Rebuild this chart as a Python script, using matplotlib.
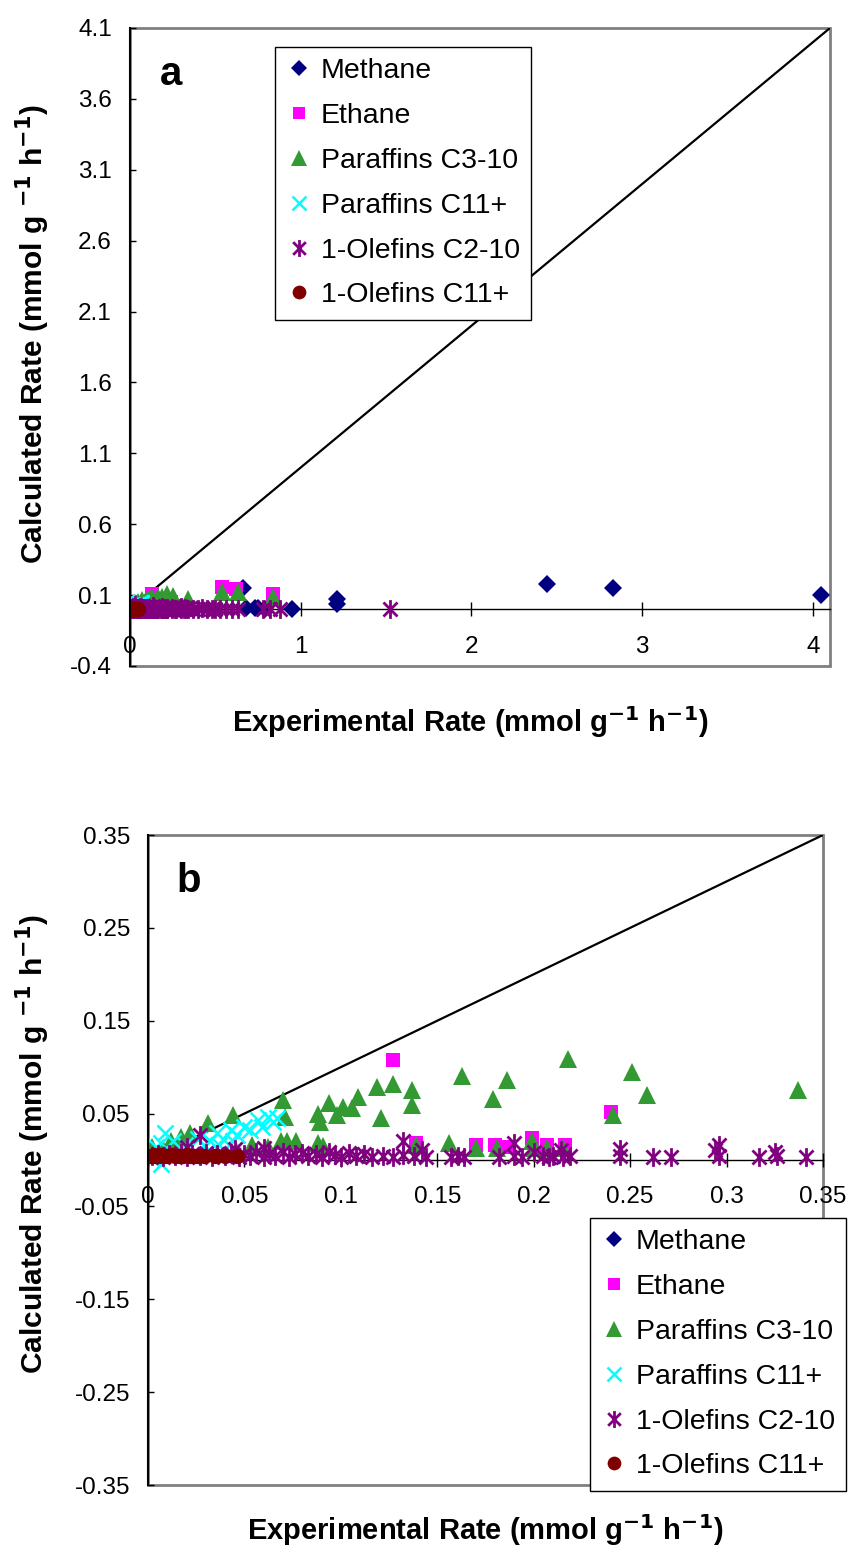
import matplotlib
matplotlib.use('Agg')
import matplotlib.pyplot as plt
from matplotlib.path import Path
from matplotlib.patches import Rectangle

plt.rcParams['font.family'] = ['Liberation Sans', 'DejaVu Sans']
plt.rcParams['mathtext.default'] = 'bf'

# experimental (x) vs calculated (y) rates, mmol g-1 h-1
methane_x = [0.66, 0.68, 0.73, 0.75, 0.79, 0.95, 1.21, 1.21, 2.44, 2.83, 4.05]
methane_y = [0.148, 0.010, 0.010, 0.010, 0.005, 0.005, 0.070, 0.035, 0.175, 0.150, 0.100]

ethane_x = [0.127, 0.139, 0.170, 0.180, 0.187, 0.199, 0.207, 0.216, 0.240, 0.54, 0.62, 0.84]
ethane_y = [0.108, 0.018, 0.016, 0.016, 0.014, 0.024, 0.016, 0.016, 0.052, 0.155, 0.140, 0.105]

par_c3_x = [0.002, 0.008, 0.012, 0.017, 0.022, 0.031, 0.044, 0.054, 0.062, 0.069, 0.070,
            0.071, 0.072, 0.077, 0.088, 0.088, 0.089, 0.091, 0.094, 0.098, 0.101, 0.106,
            0.109, 0.119, 0.121, 0.127, 0.137, 0.137, 0.139, 0.156, 0.163, 0.170, 0.179,
            0.181, 0.186, 0.199, 0.200, 0.207, 0.215, 0.218, 0.241, 0.251, 0.259, 0.337,
            0.54, 0.63, 0.84]
par_c3_y = [0.014, 0.012, 0.020, 0.025, 0.029, 0.040, 0.048, 0.016, 0.014, 0.021, 0.0645,
            0.046, 0.020, 0.020, 0.050, 0.018, 0.041, 0.015, 0.061, 0.048, 0.057, 0.056,
            0.068, 0.079, 0.045, 0.082, 0.075, 0.059, 0.016, 0.018, 0.090, 0.013, 0.066,
            0.013, 0.086, 0.020, 0.013, 0.013, 0.013, 0.109, 0.049, 0.095, 0.070, 0.075,
            0.120, 0.120, 0.090]

par_c11_x = [0.001, 0.004, 0.0065, 0.007, 0.009, 0.013, 0.019, 0.026, 0.029, 0.032, 0.036,
             0.037, 0.039, 0.043, 0.044, 0.046, 0.050, 0.053, 0.057, 0.059, 0.062, 0.065,
             0.067]
par_c11_y = [0.003, 0.014, 0.018, -0.004, 0.029, 0.020, 0.016, 0.023, 0.016, 0.021, 0.029,
             0.016, 0.023, 0.032, 0.020, 0.027, 0.036, 0.032, 0.043, 0.036, 0.046, 0.041,
             0.045]

ole_c2_x = [0.002, 0.005, 0.008, 0.011, 0.014, 0.017, 0.020, 0.020, 0.023, 0.027, 0.027,
            0.030, 0.033, 0.036, 0.040, 0.043, 0.045, 0.047, 0.050, 0.053, 0.056, 0.060,
            0.060, 0.063, 0.066, 0.070, 0.073, 0.076, 0.080, 0.083, 0.087, 0.090, 0.094,
            0.097, 0.100, 0.104, 0.108, 0.112, 0.116, 0.122, 0.127, 0.132, 0.132, 0.138,
            0.142, 0.144, 0.157, 0.161, 0.164, 0.182, 0.190, 0.190, 0.194, 0.200, 0.205,
            0.208, 0.210, 0.214, 0.215, 0.219, 0.245, 0.245, 0.262, 0.271, 0.294, 0.296,
            0.296, 0.317, 0.325, 0.326, 0.341,
            0.37, 0.40, 0.42, 0.45, 0.48, 0.50, 0.53, 0.56, 0.60, 0.63, 0.78, 0.82, 0.88,
            1.52]
ole_c2_y = [0.004, 0.006, 0.003, 0.007, 0.004, 0.008, 0.003, 0.014, 0.006, 0.004, 0.027,
            0.008, 0.003, 0.006, 0.004, 0.008, 0.012, 0.003, 0.007, 0.004, 0.009, 0.003,
            0.013, 0.006, 0.004, 0.009, 0.003, 0.006, 0.008, 0.004, 0.007, 0.003, 0.009,
            0.005, 0.003, 0.008, 0.004, 0.006, 0.003, 0.004, 0.003, 0.020, 0.005, 0.004,
            0.011, 0.003, 0.003, 0.004, 0.003, 0.003, 0.018, 0.004, 0.003, 0.009, 0.004,
            0.003, 0.004, 0.011, 0.003, 0.004, 0.012, 0.004, 0.003, 0.003, 0.011, 0.016,
            0.004, 0.003, 0.009, 0.004, 0.003,
            0.004, 0.003, 0.006, 0.004, 0.003, 0.005, 0.004, 0.003, 0.005, 0.004, 0.003,
            0.005, 0.003, 0.004]

ole_c11_x = [0.001, 0.002, 0.003, 0.004, 0.005, 0.006, 0.008, 0.010, 0.012, 0.014, 0.016,
             0.018, 0.020, 0.022, 0.024, 0.026, 0.029, 0.035, 0.040, 0.046]
ole_c11_y = [0.004, 0.004, 0.005, 0.004, 0.004, 0.005, 0.004, 0.004, 0.005, 0.004, 0.004,
             0.004, 0.005, 0.004, 0.004, 0.004, 0.004, 0.004, 0.004, 0.004]

# Excel style asterisk: vertical bar plus an x
star = Path([(0, -1), (0, 1), (-0.75, -0.75), (0.75, 0.75), (-0.75, 0.75), (0.75, -0.75)],
            [Path.MOVETO, Path.LINETO] * 3)

series = [
    ('Methane', methane_x, methane_y, dict(marker='D', color='#000080', ms=9.5, mew=0)),
    ('Ethane', ethane_x, ethane_y, dict(marker='s', color='#FF00FF', ms=10, mew=0)),
    ('Paraffins C3-10', par_c3_x, par_c3_y, dict(marker='^', color='#339933', ms=12.5, mew=0)),
    ('Paraffins C11+', par_c11_x, par_c11_y, dict(marker='x', color='#00FFFF', ms=11, mew=1.8)),
    ('1-Olefins C2-10', ole_c2_x, ole_c2_y, dict(marker=star, color='#800080', ms=13.5, mew=2.0)),
    ('1-Olefins C11+', ole_c11_x, ole_c11_y, dict(marker='o', color='#800000', ms=11, mew=0)),
]

fig = plt.figure(figsize=(8.53, 15.47), dpi=100)


def draw_panel(rect, lim, yticks, xticks, xfmt, tag, tag_xy, leg_xy, xlab_xy, ylab_xy):
    ax = fig.add_axes(rect)
    ax.set_xlim(0, lim[0])
    ax.set_ylim(lim[1], lim[2])
    ax.plot([0, lim[0]], [0, lim[0]], color='black', lw=1.6, zorder=2)
    handles = []
    for name, xs, ys, st in series:
        h, = ax.plot(xs, ys, linestyle='none', label=name, zorder=3, **st)
        handles.append(h)

    # grey plot-area border, black axis lines through the origin
    for s in ['top', 'right']:
        ax.spines[s].set_visible(False)
    ax.add_patch(Rectangle((0, 0), 1, 1, transform=ax.transAxes, fill=False,
                           edgecolor='#808080', lw=2, clip_on=False, zorder=1))
    ax.spines['left'].set_color('black')
    ax.spines['left'].set_linewidth(1.5)
    ax.spines['left'].set_zorder(5)
    ax.spines['bottom'].set_position(('data', 0))
    ax.spines['bottom'].set_color('black')
    ax.spines['bottom'].set_linewidth(1.0)

    ax.set_yticks(yticks)
    ax.set_yticklabels(['%g' % round(v, 2) for v in yticks])
    ax.set_xticks(xticks)
    ax.set_xticklabels([xfmt % v for v in xticks])
    ax.tick_params(axis='y', direction='in', length=4.5, width=1, labelsize=17.5, pad=13)
    ax.tick_params(axis='x', direction='inout', length=10, width=1, labelsize=17.5, pad=14)

    fig.text(tag_xy[0] / 853, 1 - tag_xy[1] / 1547, tag, fontsize=29,
             fontweight='bold', ha='center', va='baseline')
    fig.text(xlab_xy[0] / 853, 1 - xlab_xy[1] / 1547,
             r'Experimental Rate (mmol g$^{-1}$ h$^{-1}$)',
             fontsize=21, fontweight='bold', ha='center', va='center')
    fig.text(ylab_xy[0] / 853, 1 - ylab_xy[1] / 1547,
             r'Calculated Rate (mmol g $^{-1}$ h$^{-1}$)',
             fontsize=21.5, fontweight='bold', ha='center', va='center', rotation=90)

    leg = ax.legend(handles=handles, loc='upper left',
                    bbox_to_anchor=(leg_xy[0] / 853, 1 - leg_xy[1] / 1547),
                    bbox_transform=fig.transFigure, fontsize=20.5, frameon=True,
                    fancybox=False, edgecolor='black', framealpha=1, borderpad=0.4,
                    handlelength=0.9, handletextpad=0.3, labelspacing=0.66,
                    markerscale=0.9, borderaxespad=0)
    leg.get_frame().set_linewidth(1.0)
    return ax


draw_panel([130 / 853, 1 - 666 / 1547, 700 / 853, 638 / 1547],
           (4.1, -0.4, 4.1),
           [-0.4, 0.1, 0.6, 1.1, 1.6, 2.1, 2.6, 3.1, 3.6, 4.1],
           [0, 1, 2, 3, 4], '%d', 'a', (171, 85), (275, 47), (470, 722), (33, 334))

draw_panel([148 / 853, 1 - 1485 / 1547, 675 / 853, 650 / 1547],
           (0.35, -0.35, 0.35),
           [-0.35, -0.25, -0.15, -0.05, 0.05, 0.15, 0.25, 0.35],
           [0, 0.05, 0.1, 0.15, 0.2, 0.25, 0.3, 0.35], '%g', 'b', (189, 892),
           (590, 1218), (485, 1530), (33, 1144))

fig.savefig('out.png', dpi=100)
